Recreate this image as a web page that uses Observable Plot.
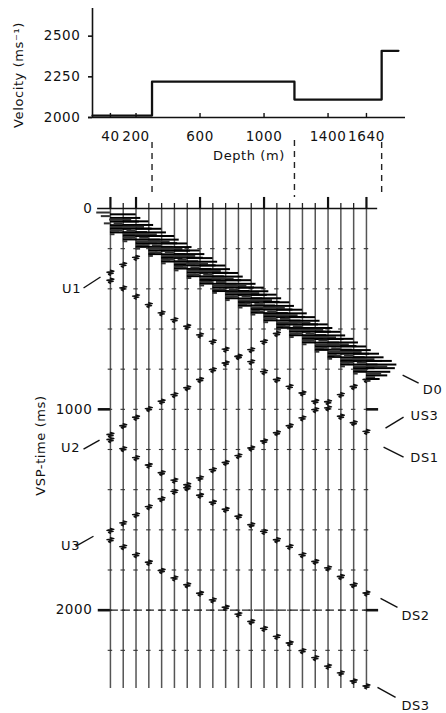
<!DOCTYPE html>
<html><head><meta charset="utf-8">
<script src="https://cdn.jsdelivr.net/npm/d3@7"></script>
<script src="https://cdn.jsdelivr.net/npm/@observablehq/plot@0.6"></script>
<style>
html,body{margin:0;padding:0;background:#fff;}
#wrap{position:relative;width:446px;height:713px;overflow:hidden;background:#fff;}
#wrap svg{position:absolute;left:0;}
</style></head><body><div id="wrap"></div>
<script>
// ---- velocity model (top panel) ----
const depthTicks = [40, 200, 600, 1000, 1400, 1640];
const velocityTicks = [2000, 2250, 2500];
const layerTop = [-72, 300, 1190, 1735];
const layerBottom = [300, 1190, 1735, 1840];
const layerVelocity = [2012, 2220, 2110, 2410];
const boundaryDepths = [300, 1190, 1735];
const boundaryDashTop = [1846, 1859, 1846];
const boundaryDashBottom = [1533, 1508, 1533];

// ---- VSP section (bottom panel) ----
const traceDepths = [40,120,200,280,360,440,520,600,680,760,840,920,1000,1080,1160,1240,1320,1400,1480,1560,1640];
const timeTicks = [0, 1000, 2000];
const gridTimes = [200,400,600,800,1000,1200,1400,1600,1800,2000,2200];
// arrival times (ms) on each trace, read from the section
const D0  = [20, 55, 92, 128, 165, 200, 238, 275, 312, 348, 385, 420, 458, 495, 532, 568, 605, 640, 678, 714, 750];
const U1  = [320, 281, 246, null, null, null, null, null, null, null, null, null, null, null, null, null, null, null, null, null, null];
const DS1 = [360, 398, 439, 481, 522, 556, 589, 632, 664, 703, 738, 765, 815, 854, 888, 921, 962, 995, 1037, 1069, 1112];
const U2  = [1128, 1084, 1042, 999, 962, 929, 895, 854, 805, 772, 740, 705, 664, 625, null, null, null, null, null, null, null];
const DS2 = [1153, 1198, 1243, 1280, 1318, 1355, 1393, 1430, 1465, 1500, 1535, 1577, 1610, 1652, 1685, 1726, 1760, 1792, 1835, 1876, 1917];
const U3  = [1605, 1568, 1527, 1487, 1448, 1411, 1378, 1344, 1303, 1267, 1233, 1195, 1160, 1119, 1084, 1045, 1004, 965, 929, 889, 854];
const DS3 = [1651, 1686, 1726, 1764, 1805, 1842, 1876, 1918, 1951, 1988, 2022, 2059, 2093, 2133, 2166, 2204, 2239, 2281, 2315, 2355, 2380];
// direct-arrival wiggle drawn as horizontal excursions (relative amplitude per sample)
const directWavelet = [-0.45, 0.85, -0.3, 1.0, 0.7, 0.95, -0.2, 0.8, 0.5, 0.7, 0.3, 0.45, 0.15];
const eventWavelet = [0, 0.9, -0.9, 0.7, -0.5, 0];

// annotations
const labelText  = ["U1", "U2", "U3", "D0", "US3", "DS1", "DS2", "DS3"];
const labelDepth = [-203, -209, -209, 2053, 2003, 2003, 1947, 1947];
const labelTime  = [401, 1193, 1682, 904, 1034, 1243, 2026, 2474];
const pointerX1 = [-128, -128, -178, 1866, 1759, 1747, 1728, 1709];
const pointerT1 = [396, 1198, 1682, 830, 1094, 1188, 1941, 2384];
const pointerX2 = [-22, -28, -66, 1966, 1872, 1872, 1834, 1822];
const pointerT2 = [341, 1153, 1632, 869, 1039, 1238, 1986, 2434];

// ---- build tables ----
const velPts = [];
layerVelocity.forEach((v, i) => { velPts.push({d: layerTop[i], v}); velPts.push({d: layerBottom[i], v}); });

function wiggles(name, times, wavelet, dt, amp) {
  const out = [];
  const off = (wavelet.length - 1) * dt / 2;
  times.forEach((t, i) => {
    if (t == null) return;
    wavelet.forEach((w, j) => out.push({key: name + i, x: traceDepths[i] + amp * w, y: t - off + j * dt}));
  });
  return out;
}
const directBars = [];
D0.forEach((t, i) => directWavelet.forEach((w, j) =>
  directBars.push({d: traceDepths[i], x2: traceDepths[i] + 190 * w, t: t + j * 9, k: j})));
const eventWig = [
  ...wiggles("U1", U1, eventWavelet, 5, 24),
  ...wiggles("DS1", DS1, eventWavelet, 5, 24),
  ...wiggles("U2", U2, eventWavelet, 5, 24),
  ...wiggles("DS2", DS2, eventWavelet, 5, 24),
  ...wiggles("U3", U3, eventWavelet, 5, 24),
  ...wiggles("DS3", DS3, eventWavelet, 5, 24)
];
const gridPts = [];
gridTimes.forEach(t => traceDepths.forEach(d => gridPts.push({t, d})));
const labels = labelText.map((s, i) => ({s, x: labelDepth[i], y: labelTime[i]}));
const pointers = labelText.map((s, i) => ({x1: pointerX1[i], y1: pointerT1[i], x2: pointerX2[i], y2: pointerT2[i]}));
const minorTraces = traceDepths.filter(d => !depthTicks.includes(d));

const baseStyle = {background: "transparent", fontFamily: "DejaVu Sans, sans-serif", fontSize: "13px", color: "#111", letterSpacing: "0.6px"};
const fmt = d => String(d);

const topPlot = Plot.plot({
  width: 446, height: 200,
  marginLeft: 92, marginRight: 41, marginTop: 8, marginBottom: 83,
  style: baseStyle,
  x: {domain: [-72, 1884]},
  y: {domain: [2000, 2670]},
  marks: [
    Plot.ruleX([layerTop[0]], {y1: 2000, y2: 2670, strokeWidth: 1.6, stroke: "#111"}),
    Plot.ruleY([2000], {x1: -97, x2: 1884, strokeWidth: 1.6, stroke: "#111"}),
    Plot.axisY(velocityTicks, {tickSize: 4, tickPadding: 8, label: null, strokeWidth: 1.6, tickFormat: fmt, fontSize: 13.5}),
    Plot.axisX(depthTicks, {tickSize: 0, tickPadding: 14, label: null, tickFormat: fmt, fontSize: 13.5}),
    Plot.ruleX(depthTicks, {y1: 2000, y2: 2025, strokeWidth: 1.4, stroke: "#111"}),
    Plot.line(velPts, {x: "d", y: "v", strokeWidth: 2.3, stroke: "#111"}),
    Plot.ruleX(boundaryDepths, {x: d => d, y1: boundaryDashTop, y2: boundaryDashBottom, strokeDasharray: "6,5", strokeWidth: 1.4, stroke: "#222"}),
    Plot.text(["Depth (m)"], {frameAnchor: "bottom", lineAnchor: "middle", textAnchor: "middle", dy: 38, fill: "#111"}),
    Plot.text(["Velocity (ms⁻¹)"], {frameAnchor: "left", textAnchor: "middle", lineAnchor: "middle", rotate: -90, dx: -74, dy: 12, fill: "#111"})
  ]
});

const botPlot = Plot.plot({
  width: 446, height: 533,
  marginLeft: 92, marginRight: 41, marginTop: 28, marginBottom: 23,
  style: baseStyle,
  x: {domain: [-72, 1884], axis: null},
  y: {domain: [0, 2400], reverse: true, axis: null},
  marks: [
    Plot.ruleX(traceDepths, {y1: 0, y2: 2390, stroke: "#555", strokeWidth: 1.5}),
    Plot.ruleY(gridPts, {y: "t", x1: d => d.d - 14, x2: d => d.d + 14, stroke: "#333", strokeWidth: 1.1}),
    Plot.ruleY([2000], {x1: traceDepths[0], x2: traceDepths[traceDepths.length - 1], strokeDasharray: "8,4", strokeWidth: 1.3, stroke: "#222"}),
    Plot.ruleY([0], {x1: -40, x2: 1710, strokeWidth: 1.7, stroke: "#111"}),
    Plot.ruleX(depthTicks, {y1: 0, y2: -55, strokeWidth: 2.2, stroke: "#111"}),
    Plot.ruleX(minorTraces, {y1: 0, y2: -25, strokeWidth: 1.3, stroke: "#222"}),
    Plot.ruleY([1000, 2000], {x1: -36, x2: traceDepths[0], strokeWidth: 2.6, stroke: "#111"}),
    Plot.ruleY([1000, 2000], {x1: traceDepths[traceDepths.length - 1], x2: 1716, strokeWidth: 2.6, stroke: "#111"}),
    Plot.text(timeTicks, {x: traceDepths[0], y: d => d, text: fmt, textAnchor: "end", dx: -18, fill: "#111", fontSize: 13.5}),
    Plot.line(eventWig, {x: "x", y: "y", z: "key", stroke: "#111", strokeWidth: 1.4}),
    Plot.ruleY(directBars, {y: "t", x1: "d", x2: "x2", stroke: d => (d.k % 2 ? "#000" : "#333"), strokeWidth: 2}),
    Plot.link(pointers, {x1: "x1", y1: "y1", x2: "x2", y2: "y2", stroke: "#111", strokeWidth: 1.4}),
    Plot.text(labels, {x: "x", y: "y", text: "s", fill: "#111"}),
    Plot.text(["VSP-time (ms)"], {frameAnchor: "left", textAnchor: "middle", lineAnchor: "middle", rotate: -90, dx: -52, dy: -4, fill: "#111"})
  ]
});

const wrap = document.getElementById("wrap");
topPlot.style.top = "0px";
botPlot.style.top = "180px";
wrap.appendChild(botPlot);
wrap.appendChild(topPlot);
</script></body></html>
